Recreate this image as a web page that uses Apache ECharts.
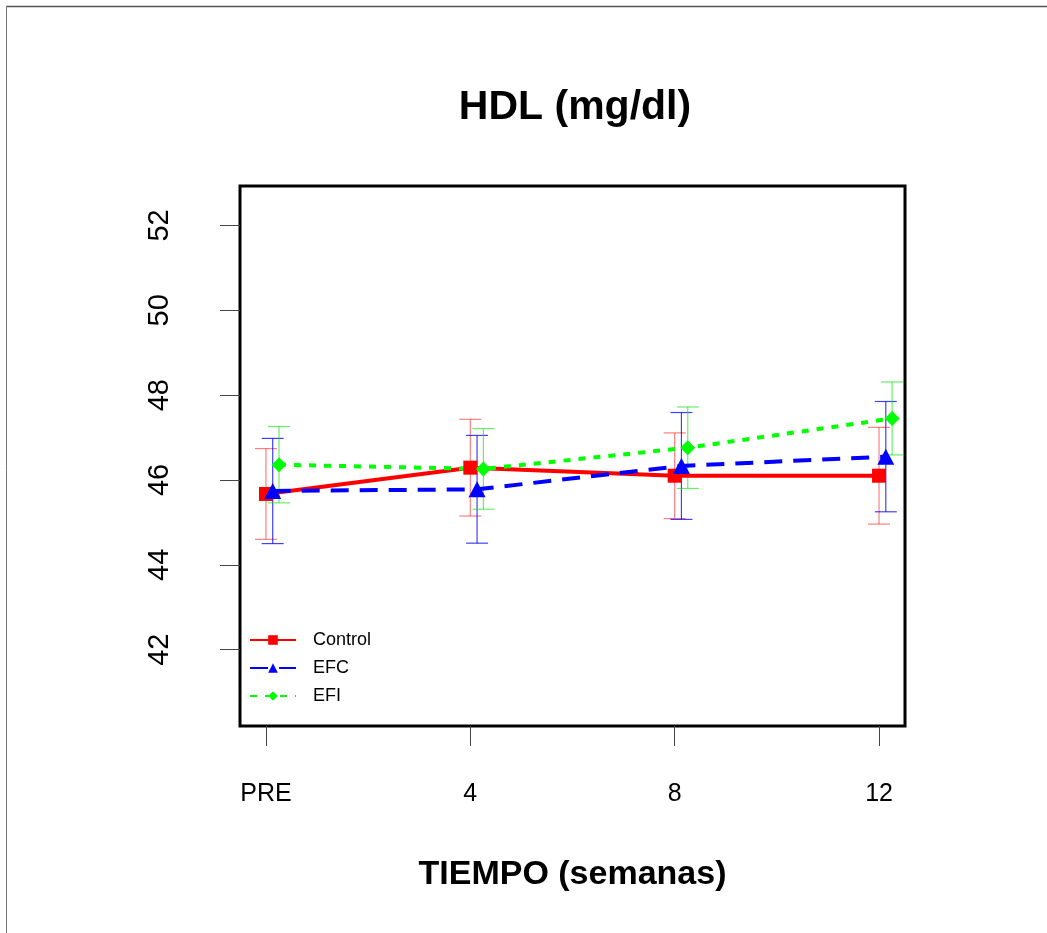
<!DOCTYPE html>
<html>
<head>
<meta charset="utf-8">
<script src="https://cdn.jsdelivr.net/npm/echarts@6/dist/echarts.min.js"></script>
<style>
html,body{margin:0;padding:0;background:#fff;}
#chart{width:1047px;height:933px;}
</style>
</head>
<body>
<div id="chart"></div>
<script>
// ---- data ----
var categories = ['PRE', '4', '8', '12'];
var yTicks = [42, 44, 46, 48, 50, 52];
var controlMean = [45.67, 46.29, 46.10, 46.10];
var controlErr  = [1.07, 1.14, 1.01, 1.14];
var efcMean = [45.74, 45.78, 46.33, 46.55];
var efcErr  = [1.24, 1.27, 1.26, 1.30];
var efiMean = [46.36, 46.26, 46.76, 47.45];
var efiErr  = [0.90, 0.95, 0.96, 0.86];
var seriesNames = ['Control', 'EFC', 'EFI'];

var FONT = "'Liberation Sans', Arial, sans-serif";
var offsets = [0, 0.033, 0.064];
var colors = ['#ff0000', '#0000ff', '#00ff00'];
var barColors = ['rgba(255,0,0,0.5)', 'rgba(0,0,255,0.75)', 'rgba(0,230,0,0.6)'];
var means = [controlMean, efcMean, efiMean];
var errs = [controlErr, efcErr, efiErr];
var symbols = ['rect', 'triangle', 'diamond'];
var symbolSizes = [14, [17, 16], 15];
var lineTypes = ['solid', [18, 11], [7, 8]];

var series = [];
for (var g = 0; g < 3; g++) {
  (function (g) {
    var lineData = means[g].map(function (v, i) { return [i + 1 + offsets[g], v]; });
    var errData = means[g].map(function (v, i) { return [i + 1 + offsets[g], v - errs[g][i], v + errs[g][i]]; });
    series.push({
      type: 'custom',
      name: seriesNames[g] + '_err',
      data: errData,
      z: 2,
      silent: true,
      renderItem: function (params, api) {
        var x = api.value(0);
        var lo = api.coord([x, api.value(1)]);
        var hi = api.coord([x, api.value(2)]);
        var cw = 11;
        var st = { stroke: barColors[g], lineWidth: 1.2 };
        return {
          type: 'group',
          children: [
            { type: 'line', shape: { x1: lo[0], y1: lo[1], x2: hi[0], y2: hi[1] }, style: st },
            { type: 'line', shape: { x1: lo[0] - cw, y1: lo[1], x2: lo[0] + cw, y2: lo[1] }, style: st },
            { type: 'line', shape: { x1: hi[0] - cw, y1: hi[1], x2: hi[0] + cw, y2: hi[1] }, style: st }
          ]
        };
      }
    });
    series.push({
      type: 'line',
      name: seriesNames[g],
      data: lineData,
      z: 3,
      symbol: symbols[g],
      symbolSize: symbolSizes[g],
      showSymbol: true,
      itemStyle: { color: colors[g] },
      lineStyle: { color: colors[g], width: 4, type: lineTypes[g] },
      animation: false
    });
  })(g);
}

var chart = echarts.init(document.getElementById('chart'));
chart.setOption({
  animation: false,
  backgroundColor: '#fff',
  title: {
    text: 'HDL (mg/dl)',
    left: 570, top: 82,
    textAlign: 'center',
    textStyle: { fontFamily: FONT, fontSize: 41, fontWeight: 'bold', color: '#000' }
  },
  grid: {
    left: 240, right: 142, top: 186, bottom: 207,
    show: true, borderColor: '#000', borderWidth: 3, backgroundColor: 'transparent'
  },
  legend: {
    orient: 'vertical',
    left: 244, top: 626,
    itemWidth: 46, itemHeight: 12, itemGap: 10,
    data: seriesNames,
    textStyle: { fontFamily: FONT, fontSize: 18, color: '#000', padding: [0, 0, 0, 12] }
  },
  xAxis: {
    type: 'value',
    min: 0.873, max: 4.127,
    splitLine: { show: false },
    axisLine: { show: false },
    axisTick: { show: true, length: 20, customValues: [1, 2, 3, 4], lineStyle: { color: '#444', width: 1 } },
    axisLabel: {
      customValues: [1, 2, 3, 4],
      formatter: function (v) { return categories[Math.round(v) - 1]; },
      margin: 56, fontFamily: FONT, fontSize: 25, color: '#000'
    },
    name: 'TIEMPO (semanas)',
    nameLocation: 'middle',
    nameGap: 132,
    nameTextStyle: { fontFamily: FONT, fontSize: 34, fontWeight: 'bold', color: '#000' }
  },
  yAxis: {
    type: 'value',
    min: 40.2, max: 52.93,
    splitLine: { show: false },
    axisLine: { show: false },
    axisTick: { show: true, length: 20, customValues: yTicks, lineStyle: { color: '#444', width: 1 } },
    axisLabel: {
      customValues: yTicks,
      rotate: 90,
      margin: 66, fontFamily: FONT, fontSize: 29, color: '#000'
    }
  },
  graphic: [
    { type: 'line', shape: { x1: 6, y1: 6.5, x2: 1047, y2: 6.5 }, style: { stroke: '#555', lineWidth: 1.5 } },
    { type: 'line', shape: { x1: 6.5, y1: 6, x2: 6.5, y2: 933 }, style: { stroke: '#777', lineWidth: 1 } }
  ],
  series: series
});
</script>
</body>
</html>
